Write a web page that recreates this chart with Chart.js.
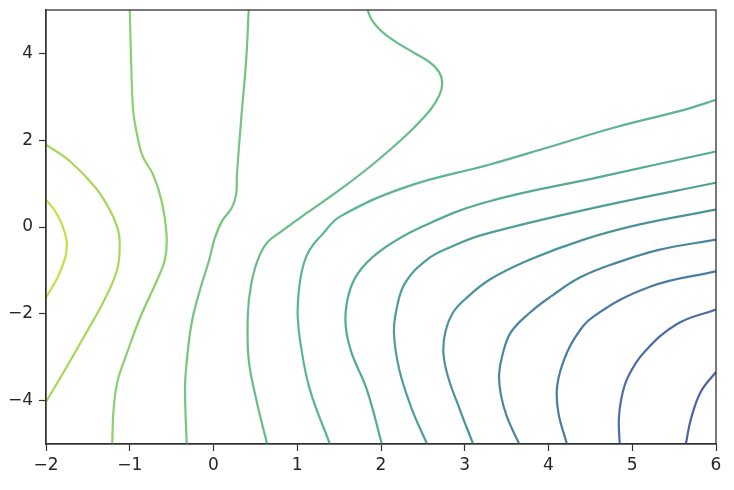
<!DOCTYPE html>
<html>
<head>
<meta charset="utf-8">
<script src="https://cdn.jsdelivr.net/npm/chart.js@4/dist/chart.umd.min.js"></script>
<style>
  body { margin: 0; background: #fff; }
  canvas { display: block; }
</style>
</head>
<body>
<canvas id="contour-chart" width="734" height="490"></canvas>
<script>
// contour lines, as [x, y] pairs, highest level first
var contour1 = [[-2.0, 0.63], [-1.89, 0.36], [-1.81, 0.06], [-1.76, -0.24], [-1.75, -0.40], [-1.77, -0.70], [-1.86, -1.16], [-2.0, -1.62]];
var contour2 = [[-2.0, 1.90], [-1.71, 1.51], [-1.41, 0.91], [-1.24, 0.40], [-1.14, -0.06], [-1.12, -0.40], [-1.15, -0.98], [-1.30, -1.67], [-1.53, -2.47], [-1.77, -3.28], [-2.0, -4.03]];
var contour3 = [[-1.0, 5.0], [-0.98, 3.6], [-0.96, 2.7], [-0.92, 2.2], [-0.85, 1.65], [-0.72, 1.2], [-0.62, 0.6], [-0.56, -0.2], [-0.58, -0.75], [-0.67, -1.21], [-0.78, -1.67], [-0.90, -2.20], [-1.03, -2.89], [-1.14, -3.51], [-1.19, -4.13], [-1.21, -5.0]];
var contour4 = [[0.42, 5.0], [0.39, 3.85], [0.33, 2.47], [0.28, 1.21], [0.27, 0.75], [0.22, 0.45], [0.10, 0.13], [0.01, -0.29], [-0.05, -0.75], [-0.16, -1.44], [-0.26, -2.20], [-0.32, -3.11], [-0.34, -3.74], [-0.32, -5.0]];
var contour5 = [[1.84, 5.0], [1.89, 4.77], [1.99, 4.54], [2.14, 4.31], [2.38, 4.03], [2.58, 3.80], [2.70, 3.55], [2.73, 3.30], [2.70, 3.05], [2.59, 2.70], [2.31, 2.13], [1.90, 1.44], [1.51, 0.86], [1.12, 0.33], [0.79, -0.13], [0.64, -0.36], [0.53, -0.75], [0.45, -1.32], [0.41, -2.01], [0.42, -3.05], [0.51, -3.97], [0.64, -5.0]];
var contour6 = [[6.0, 2.93], [5.62, 2.70], [4.82, 2.31], [4.02, 1.85], [3.30, 1.44], [2.31, 0.93], [1.51, 0.24], [1.30, -0.17], [1.15, -0.52], [1.07, -0.90], [1.02, -1.45], [1.005, -2.05], [1.04, -2.70], [1.15, -3.74], [1.39, -5.0]];
var contour7 = [[6.0, 1.74], [4.63, 1.16], [3.23, 0.56], [2.47, -0.01], [2.05, -0.47], [1.77, -0.95], [1.63, -1.45], [1.575, -2.15], [1.64, -2.85], [1.83, -3.74], [2.01, -5.0]];
var contour8 = [[6.0, 1.02], [4.61, 0.47], [3.23, -0.17], [2.82, -0.47], [2.55, -0.75], [2.29, -1.28], [2.19, -1.85], [2.155, -2.45], [2.22, -3.30], [2.37, -4.20], [2.55, -5.0]];
var contour9 = [[6.0, 0.40], [5.09, 0.06], [4.42, -0.29], [3.78, -0.75], [3.30, -1.21], [3.00, -1.67], [2.86, -1.97], [2.77, -2.40], [2.745, -2.90], [2.80, -3.45], [2.94, -4.20], [3.10, -5.0]];
var contour10 = [[6.0, -0.29], [5.33, -0.52], [4.82, -0.82], [4.38, -1.16], [4.03, -1.60], [3.78, -1.97], [3.55, -2.43], [3.45, -2.95], [3.41, -3.40], [3.43, -3.85], [3.50, -4.35], [3.65, -5.0]];
var contour11 = [[6.0, -1.02], [5.22, -1.37], [4.54, -2.06], [4.30, -2.60], [4.16, -3.20], [4.10, -3.74], [4.12, -4.30], [4.22, -5.0]];
var contour12 = [[6.0, -1.90], [5.53, -2.24], [5.14, -2.89], [4.95, -3.45], [4.87, -3.95], [4.84, -4.43], [4.85, -5.0]];
var contour13 = [[6.0, -3.34], [5.82, -3.79], [5.70, -4.43], [5.64, -5.0]];

var contours = [contour1, contour2, contour3, contour4, contour5, contour6, contour7,
  contour8, contour9, contour10, contour11, contour12, contour13];

var lineColors = ["#c6df48", "#a9d75c", "#8dcf6d", "#74c57d", "#66bd88", "#5db58e", "#54aa93",
  "#4d9f97", "#4a939b", "#4a879e", "#4c7ba2", "#4e6ea3", "#5061a0"];

var xTicks = [-2, -1, 0, 1, 2, 3, 4, 5, 6];
var yTicks = [-4, -2, 0, 2, 4];

var axisColor = "#333333";
var textColor = "#262626";

// draws the box round the plot area (top and right sides too)
var frame = {
  id: "frame",
  afterDatasetsDraw: function (chart) {
    var a = chart.chartArea;
    var ctx = chart.ctx;
    ctx.save();
    ctx.strokeStyle = axisColor;
    ctx.lineWidth = 1.3;
    ctx.strokeRect(a.left, a.top, a.right - a.left, a.bottom - a.top);
    ctx.restore();
  },
};

function minusLabel(value) {
  return String(value).replace("-", "\u2212");
}

function buildDatasets() {
  return contours.map(function (pts, i) {
    return {
      data: pts.map(function (p) {
        return { x: p[0], y: p[1] };
      }),
      borderColor: lineColors[i],
      borderWidth: 2.2,
      pointRadius: 0,
      tension: 0.4,
      fill: false,
    };
  });
}

window.onload = function () {
  var ctx = document.getElementById("contour-chart").getContext("2d");
  new Chart(ctx, {
    type: "line",
    data: { datasets: buildDatasets() },
    options: {
      indexAxis: "y",
      responsive: false,
      animation: false,
      layout: { padding: { left: 0, top: 10, right: 18, bottom: 0 } },
      plugins: {
        legend: { display: false },
        tooltip: { enabled: false },
      },
      scales: {
        x: {
          type: "linear",
          min: xTicks[0],
          max: xTicks[xTicks.length - 1],
          afterBuildTicks: function (s) {
            s.ticks = xTicks.map(function (v) { return { value: v }; });
          },
          afterFit: function (s) {
            s.height = 46;
            s.paddingLeft = 0;
            s.paddingRight = 0;
          },
          ticks: {
            color: textColor,
            padding: 4,
            maxRotation: 0,
            font: { family: "DejaVu Sans", size: 17 },
            callback: minusLabel,
          },
          grid: { drawOnChartArea: false, tickLength: 7, color: axisColor, tickWidth: 1.2 },
          border: { color: axisColor, width: 1.3 },
        },
        y: {
          type: "linear",
          min: -5,
          max: 5,
          afterBuildTicks: function (s) {
            s.ticks = yTicks.map(function (v) { return { value: v }; });
          },
          afterFit: function (s) {
            s.width = 46;
            s.paddingTop = 0;
            s.paddingBottom = 0;
          },
          ticks: {
            color: textColor,
            padding: 6,
            font: { family: "DejaVu Sans", size: 17 },
            callback: minusLabel,
          },
          grid: { drawOnChartArea: false, tickLength: 7, color: axisColor, tickWidth: 1.2 },
          border: { color: axisColor, width: 1.3 },
        },
      },
    },
    plugins: [frame],
  });
};
</script>
</body>
</html>
